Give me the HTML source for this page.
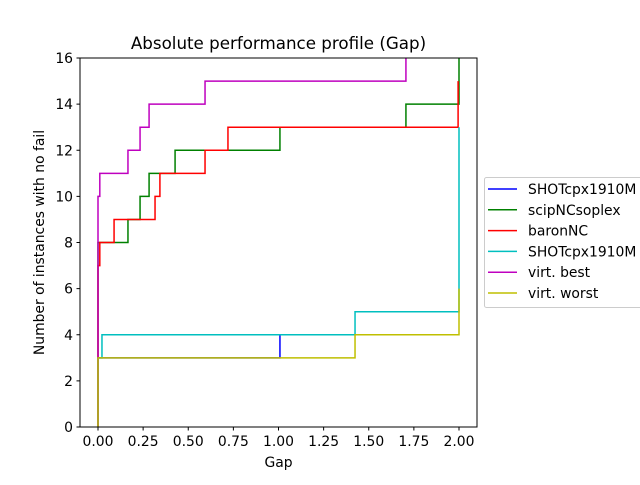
<!DOCTYPE html>
<html><head><meta charset="utf-8"><style>
body{margin:0;background:#fff;font-family:"Liberation Sans","DejaVu Sans",sans-serif}
svg text{font-family:"DejaVu Sans","Liberation Sans",sans-serif}
</style></head><body>
<svg id="chart" width="640" height="480" viewBox="0 0 640 480" xmlns="http://www.w3.org/2000/svg">
<rect width="640" height="480" fill="#fff"/>
<text x="278.5" y="49" font-size="16.7" text-anchor="middle">Absolute performance profile (Gap)</text>
<g id="marks"></g>
<rect x="80" y="58" width="397" height="369" fill="none" stroke="#000" stroke-width="1"/>
<g id="axes"></g>
<text x="278.5" y="467" font-size="13.9" text-anchor="middle">Gap</text>
<text transform="translate(44,242.5) rotate(-90)" font-size="13.9" text-anchor="middle">Number of instances with no fail</text>
<g id="legend"></g>
</svg>
<script>
const seriesNames=["SHOTcpx1910M","scipNCsoplex","baronNC","SHOTcpx1910M","virt. best","virt. worst"];
const seriesColors=["#0000ff","#008000","#ff0000","#00bfbf","#bf00bf","#bfbf00"];
const shotX=[0,0,1.008,2.0];const shotY=[0,3,4,4];
const scipX=[0,0,0.166,0.233,0.283,0.427,1.008,1.706,2.0];const scipY=[0,8,9,10,11,12,13,14,16];
const baronX=[0,0,0.01,0.089,0.316,0.343,0.593,0.72,1.995];const baronY=[0,7,8,9,10,11,12,13,15];
const shot2X=[0,0,0.022,1.424,2.0];const shot2Y=[0,3,4,5,13];
const bestX=[0,0,0.01,0.166,0.233,0.283,0.593,1.706];const bestY=[0,10,11,12,13,14,15,16];
const worstX=[0,0,1.424,2.0];const worstY=[0,3,4,6];
const xTicks=[0,0.25,0.5,0.75,1.0,1.25,1.5,1.75,2.0];
const xTickLabels=["0.00","0.25","0.50","0.75","1.00","1.25","1.50","1.75","2.00"];
const yTicks=[0,2,4,6,8,10,12,14,16];
const NS="http://www.w3.org/2000/svg";
function sx(v){return 98+v*180.5;}
function sy(v){return 427-v*(369/16);}
const allX=[shotX,scipX,baronX,shot2X,bestX,worstX];
const allY=[shotY,scipY,baronY,shot2Y,bestY,worstY];
const marks=document.getElementById('marks');
[0,1,2,3,4,5].forEach(i=>{
  const X=allX[i],Y=allY[i];let d="M"+sx(X[0])+","+sy(Y[0]);
  for(let k=1;k<X.length;k++){d+=" H"+sx(X[k])+" V"+sy(Y[k]);}
  const p=document.createElementNS(NS,'path');
  p.setAttribute('d',d);p.setAttribute('fill','none');p.setAttribute('stroke',seriesColors[i]);p.setAttribute('stroke-width','1.5');
  
  
  marks.appendChild(p);
});
const axes=document.getElementById('axes');
xTicks.forEach((t,i)=>{
  const l=document.createElementNS(NS,'line');
  l.setAttribute('x1',sx(t));l.setAttribute('x2',sx(t));l.setAttribute('y1',427);l.setAttribute('y2',430.5);l.setAttribute('stroke','#000');
  
  
  axes.appendChild(l);
  const tx=document.createElementNS(NS,'text');
  tx.setAttribute('x',sx(t));tx.setAttribute('y',446);tx.setAttribute('font-size','13.9');tx.setAttribute('text-anchor','middle');
  tx.textContent=xTickLabels[i];
  
  
  axes.appendChild(tx);
});
yTicks.forEach(t=>{
  const l=document.createElementNS(NS,'line');
  l.setAttribute('x1',76.5);l.setAttribute('x2',80);l.setAttribute('y1',sy(t));l.setAttribute('y2',sy(t));l.setAttribute('stroke','#000');
  
  
  axes.appendChild(l);
  const tx=document.createElementNS(NS,'text');
  tx.setAttribute('x',73);tx.setAttribute('y',sy(t)+5);tx.setAttribute('font-size','13.9');tx.setAttribute('text-anchor','end');
  tx.textContent=String(t);
  
  
  axes.appendChild(tx);
});
const lg=document.getElementById('legend');
const box=document.createElementNS(NS,'rect');
box.setAttribute('x',484.5);box.setAttribute('y',177.5);box.setAttribute('width',160);box.setAttribute('height',130);box.setAttribute('rx',2);
box.setAttribute('fill','#fff');box.setAttribute('stroke','#ccc');


lg.appendChild(box);
seriesNames.forEach((n,i)=>{
  const y=189+i*20.8;
  const l=document.createElementNS(NS,'line');
  l.setAttribute('x1',488);l.setAttribute('x2',517);l.setAttribute('y1',y);l.setAttribute('y2',y);l.setAttribute('stroke',seriesColors[i]);l.setAttribute('stroke-width','1.5');
  
  
  lg.appendChild(l);
  const t=document.createElementNS(NS,'text');
  t.setAttribute('x',528);t.setAttribute('y',y+5);t.setAttribute('font-size','13.9');t.textContent=n;
  
  
  lg.appendChild(t);
});
</script>
</body></html>
